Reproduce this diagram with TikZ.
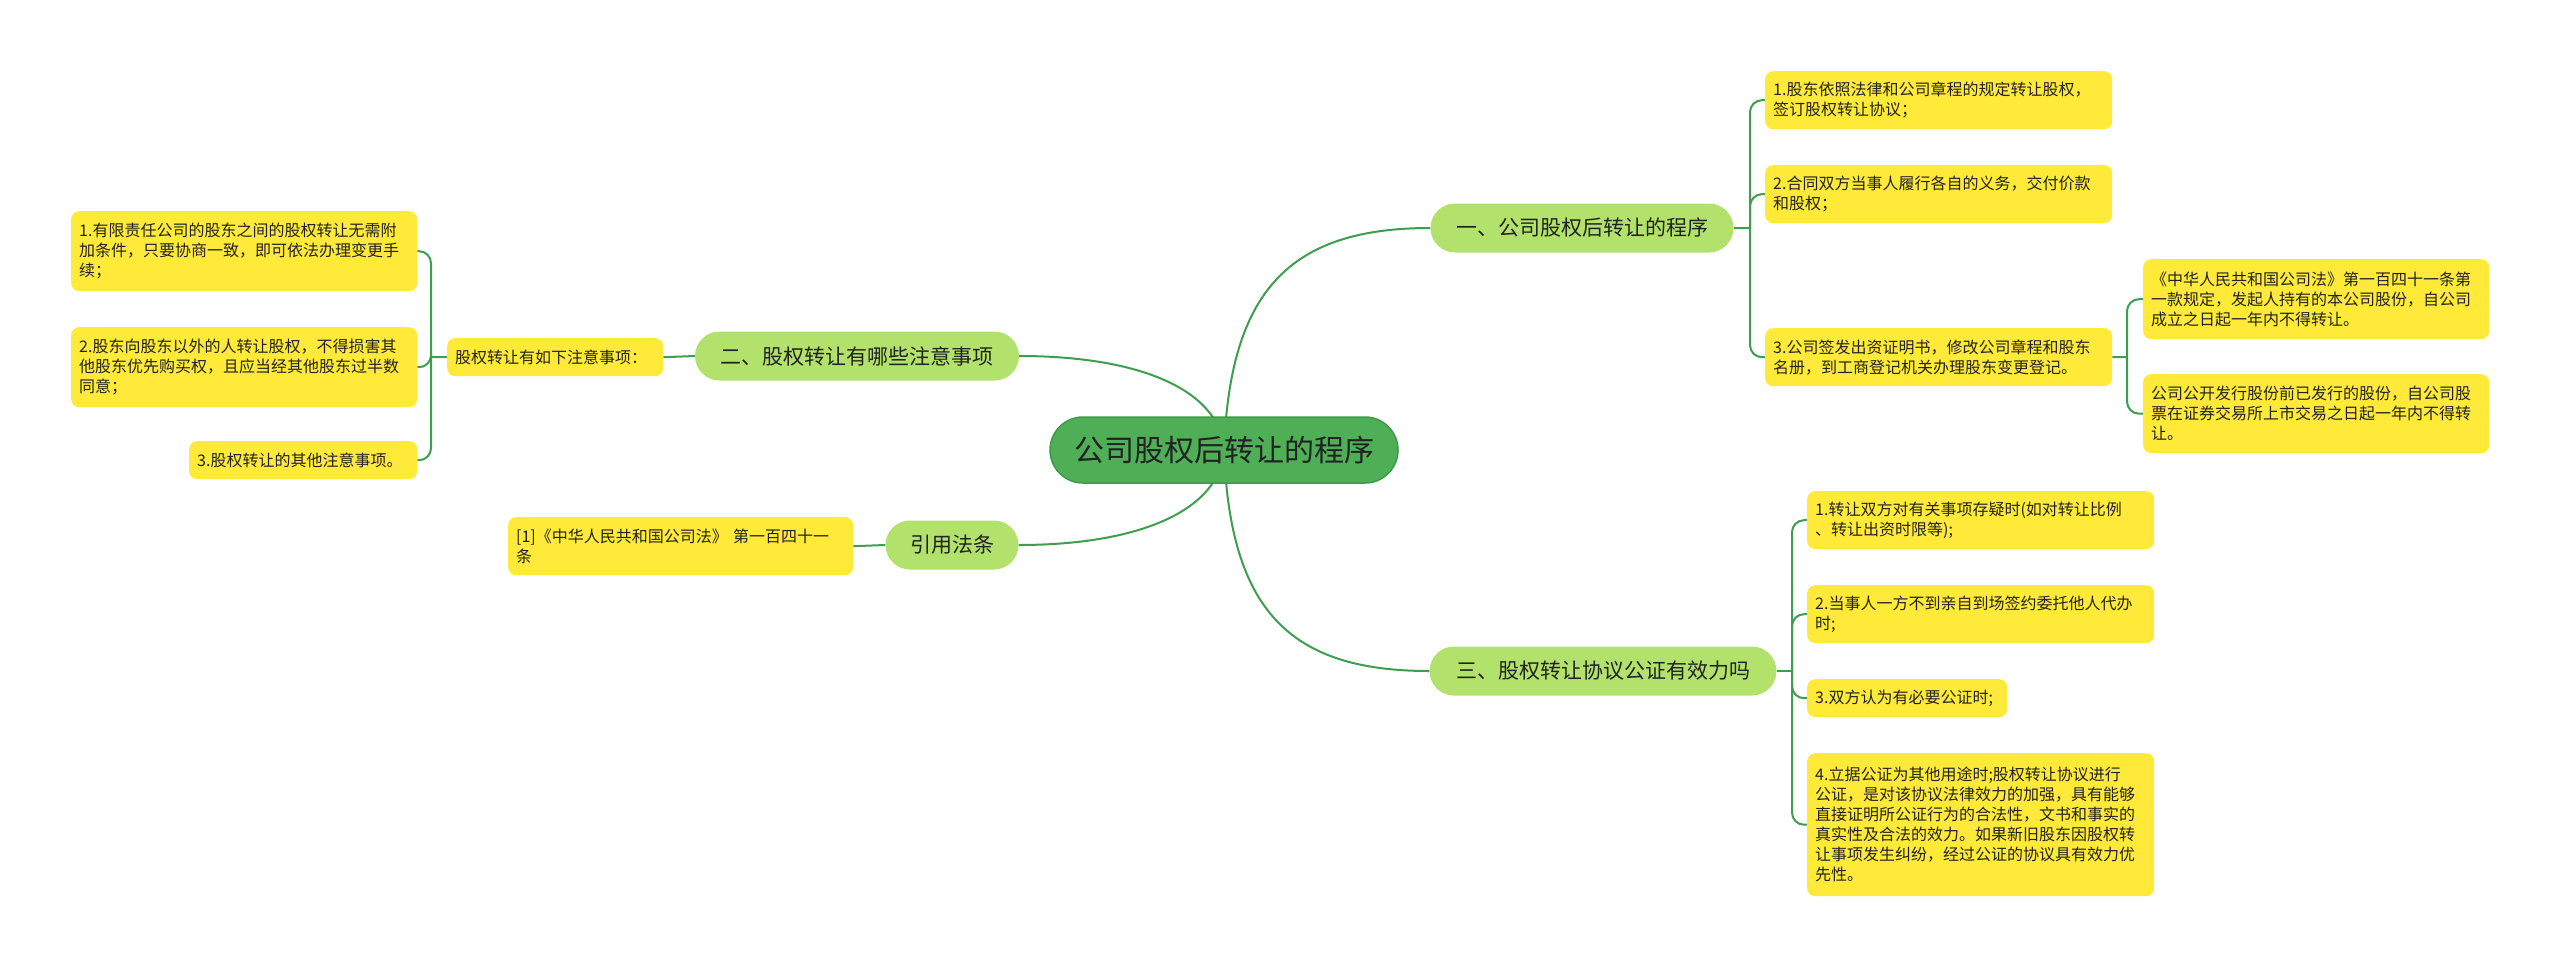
\documentclass[tikz,border=0pt]{standalone}
\usepackage{fontspec}
\setmainfont{Noto Sans CJK SC}
\usetikzlibrary{backgrounds}
\definecolor{rootfill}{HTML}{4EAF57}
\definecolor{rootline}{HTML}{3F9A48}
\definecolor{branchfill}{HTML}{B2E26B}
\definecolor{leafy}{HTML}{FFEA3A}
\definecolor{txt}{HTML}{222222}
\definecolor{lineg}{HTML}{3E9E50}
\begin{document}
\begin{tikzpicture}[x=1pt,y=-1pt,
  rootnode/.style={fill=rootfill, draw=rootline, line width=1.5pt, rounded corners=33pt, minimum width=348pt, minimum height=66pt, inner sep=0pt, text=txt, font=\fontsize{30pt}{35pt}\selectfont},
  branch/.style={fill=branchfill, rounded corners=24.5pt, minimum height=49pt, inner sep=0pt, text=txt, font=\fontsize{21pt}{25pt}\selectfont},
  leaf/.style={fill=leafy, rounded corners=8pt, anchor=north west, inner xsep=8pt, inner ysep=0pt, align=left, text=txt, font=\fontsize{16pt}{20pt}\selectfont},
  edge/.style={draw=lineg, line width=2pt},
  hook/.style={draw=lineg, line width=2pt, rounded corners=12pt}]
\useasboundingbox (0,0) rectangle (2560,967);
% root and branches
\node[rootnode] (root) at (1224,450) {公司股权后转让的程序};
\node[branch, minimum width=303pt] (b1) at (1582,228) {一、公司股权后转让的程序};
\node[branch, minimum width=324pt] (b2) at (857,356) {二、股权转让有哪些注意事项};
\node[branch, minimum width=347pt] (b3) at (1603,671) {三、股权转让协议公证有效力吗};
\node[branch, minimum width=133pt] (b4) at (952,545) {引用法条};
% branch 1 leaves
\node[leaf, text width=331pt, minimum height=58pt] (l1a) at (1765,71) {1.股东依照法律和公司章程的规定转让股权，\\签订股权转让协议；};
\node[leaf, text width=331pt, minimum height=58pt] (l1b) at (1765,165) {2.合同双方当事人履行各自的义务，交付价款\\和股权；};
\node[leaf, text width=331pt, minimum height=58pt] (l1c) at (1765,328) {3.公司签发出资证明书，修改公司章程和股东\\名册，到工商登记机关办理股东变更登记。};
\node[leaf, text width=330pt, minimum height=80pt] (l1c1) at (2143,259) {《中华人民共和国公司法》第一百四十一条第\\一款规定，发起人持有的本公司股份，自公司\\成立之日起一年内不得转让。};
\node[leaf, text width=330pt, minimum height=79pt] (l1c2) at (2143,374) {公司公开发行股份前已发行的股份，自公司股\\票在证券交易所上市交易之日起一年内不得转\\让。};
% branch 3 leaves
\node[leaf, text width=331pt, minimum height=58pt] (l3a) at (1807,491) {1.转让双方对有关事项存疑时(如对转让比例\\、转让出资时限等);};
\node[leaf, text width=331pt, minimum height=58pt] (l3b) at (1807,585) {2.当事人一方不到亲自到场签约委托他人代办\\时;};
\node[leaf, text width=184pt, minimum height=38pt] (l3c) at (1807,679) {3.双方认为有必要公证时;};
\node[leaf, text width=331pt, minimum height=143pt] (l3d) at (1807,753) {4.立据公证为其他用途时;股权转让协议进行\\公证，是对该协议法律效力的加强，具有能够\\直接证明所公证行为的合法性，文书和事实的\\真实性及合法的效力。如果新旧股东因股权转\\让事项发生纠纷，经过公证的协议具有效力优\\先性。};
% branch 2 nodes
\node[leaf, text width=200pt, minimum height=38pt] (m2) at (447,338) {股权转让有如下注意事项：};
\node[leaf, text width=330pt, minimum height=80pt] (l2a) at (71,211) {1.有限责任公司的股东之间的股权转让无需附\\加条件，只要协商一致，即可依法办理变更手\\续；};
\node[leaf, text width=330pt, minimum height=80pt] (l2b) at (71,327) {2.股东向股东以外的人转让股权，不得损害其\\他股东优先购买权，且应当经其他股东过半数\\同意；};
\node[leaf, text width=212pt, minimum height=38pt] (l2c) at (189,441) {3.股权转让的其他注意事项。};
% branch 4 node
\node[leaf, text width=329pt, minimum height=58pt] (cite) at (508,517) {[1]《中华人民共和国公司法》 第一百四十一\\条};
% junctions
\coordinate (j1) at (1750,228);
\coordinate (j1c) at (2127,357);
\coordinate (j3) at (1792,671);
\coordinate (j2) at (431,357);
\begin{pgfonlayer}{background}
\fill[white] (0,0) rectangle (2560,967);
\draw[edge] (root.center) .. controls (1230,290) and (1290,228) .. (b1.west);
\draw[edge] (root.center) .. controls (1230,611) and (1290,671) .. (b3.west);
\draw[edge] (root.center) .. controls (1220,390) and (1140,356) .. (b2.east);
\draw[edge] (root.center) .. controls (1220,510) and (1140,545) .. (b4.east);
\draw[edge] (b1.east) -- (j1);
\draw[hook] (j1) |- (l1a.west);
\draw[hook] (j1) |- (l1b.west);
\draw[hook] (j1) |- (l1c.west);
\draw[edge] (l1c.east) -- (j1c);
\draw[hook] (j1c) |- (l1c1.west);
\draw[hook] (j1c) |- (l1c2.west);
\draw[edge] (b3.east) -- (j3);
\draw[hook] (j3) |- (l3a.west);
\draw[hook] (j3) |- (l3b.west);
\draw[hook] (j3) |- (l3c.west);
\draw[hook] (j3) |- (l3d.west);
\draw[edge] (b2.west) -- (m2.east);
\draw[edge] (m2.west) -- (j2);
\draw[hook] (j2) |- (l2a.east);
\draw[hook] (j2) |- (l2b.east);
\draw[hook] (j2) |- (l2c.east);
\draw[edge] (b4.west) -- (cite.east);
\end{pgfonlayer}
\end{tikzpicture}
\end{document}
